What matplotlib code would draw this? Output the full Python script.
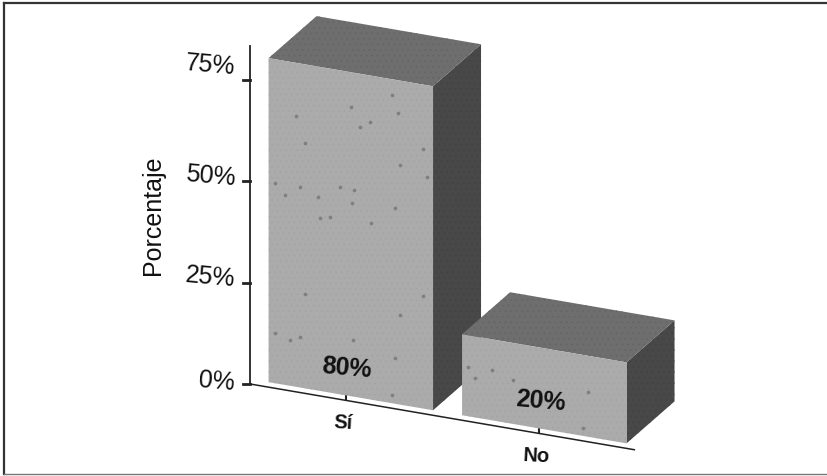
import matplotlib

matplotlib.use("Agg")
import matplotlib.pyplot as plt
from matplotlib.patches import Polygon
from matplotlib.transforms import Affine2D

categories = ["Sí", "No"]
percentages = [80, 20]
value_labels = ["80%", "20%"]
y_ticks = [0, 25, 50, 75]
y_tick_labels = ["0%", "25%", "50%", "75%"]
y_label_nudge = [-1, -3, -3, -13]

# darker flecks (category position, percent)
speck_x = [-.283, 0, .213, .244, .099, .048, -.237, .373, -.392, -.263, -.34,
           -.056, .017, -.17, .006, .228, -.107, -.159, .104, .254, .394,
           -.392, -.314, -.263, .011, .228, .373, .254, .212, -.237,
           .730, .606, .838, 1.226, 1.2, .642]
speck_pct = [66.9, 71.4, 76.1, 71.9, 68.5, 66.9, 60.6, 64.1, 49.4, 49.5, 46.9,
             51.2, 51.1, 47.8, 47.7, 48.3, 43.4, 42.7, 43.6, 59.2, 57.3,
             12.4, 11.2, 12.5, 13.9, 11.3, 27.7, 22.1, 2.0, 23.4,
             12.4, 12.2, 10.8, 11.1, 1.9, 9.7]

BAR_HALF = 0.425
DEPTH_FRONT = 0.1
DEPTH_BACK = 1.1
FRONT_COLOR = "#ababab"
TOP_COLOR = "#6e6e6e"
SIDE_COLOR = "#484848"
AXIS_COLOR = "#222222"

plt.rcParams["font.family"] = ["Liberation Sans", "DejaVu Sans"]
plt.rcParams["hatch.linewidth"] = 0.4

fig = plt.figure(figsize=(8.28, 4.76), dpi=100)
ax = fig.add_axes([0, 0, 1, 1])
ax.set_xlim(0, 828)
ax.set_ylim(476, 0)
ax.axis("off")


def plane(depth=0.0):
    # oblique projection: category, percent in the plane set back by depth
    return Affine2D.from_values(
        193.5, 33.1, 0, -4.05, 346 + 48 * depth, 400.4 - 42 * depth
    ) + ax.transData


def to_ax(point, depth=0.0):
    return ax.transData.inverted().transform(plane(depth).transform(point))


def add_face(corners, color, hatch_color, zorder):
    ax.add_patch(
        Polygon(
            corners,
            closed=True,
            facecolor=color,
            edgecolor=hatch_color,
            linewidth=0,
            hatch="...",
            zorder=zorder,
        )
    )


# axes lines
ax.plot([-0.496, 1.49], [0, 0], color=AXIS_COLOR, lw=1.1, transform=plane(), zorder=1)
ax.plot([-0.496, -0.496], [0, 83.5], color=AXIS_COLOR, lw=1.3, transform=plane(), zorder=1)
axis_x, axis_y = to_ax((-0.496, 0))
for tick, label, nudge in zip(y_ticks, y_tick_labels, y_label_nudge):
    tick_y = axis_y - 4.05 * tick
    ax.plot([axis_x - 7, axis_x], [tick_y, tick_y], color=AXIS_COLOR, lw=2, zorder=1)
    ax.text(axis_x - 15, tick_y + nudge, label, fontsize=18, ha="right", va="center",
            rotation=-5, rotation_mode="anchor", color="#111111")

for i, name in enumerate(categories):
    x0, y0 = to_ax((i, 0))
    ax.plot([x0, x0], [y0 - 1, y0 - 7], color=AXIS_COLOR, lw=1.5, zorder=1)
    ax.text(x0 - 3, y0 + 23, name, fontsize=14.5, fontweight="bold", ha="center", va="center",
            rotation=-3, rotation_mode="anchor", color="#111111")

# bars, first one drawn first so the second overlaps its side
for i, value in enumerate(percentages):
    x0, x1 = i - BAR_HALF, i + BAR_HALF
    z = 2 + 2 * i
    add_face(
        [to_ax((x1, value), DEPTH_FRONT), to_ax((x1, value), DEPTH_BACK),
         to_ax((x1, 0), DEPTH_BACK), to_ax((x1, 0), DEPTH_FRONT)],
        SIDE_COLOR, "#414141", z,
    )
    add_face(
        [to_ax((x0, value), DEPTH_FRONT), to_ax((x0, value), DEPTH_BACK),
         to_ax((x1, value), DEPTH_BACK), to_ax((x1, value), DEPTH_FRONT)],
        TOP_COLOR, "#646464", z,
    )
    add_face(
        [to_ax((x0, 0), DEPTH_FRONT), to_ax((x1, 0), DEPTH_FRONT),
         to_ax((x1, value), DEPTH_FRONT), to_ax((x0, value), DEPTH_FRONT)],
        FRONT_COLOR, "#a3a3a3", z,
    )
    bx, by = to_ax((i, 0), DEPTH_FRONT)
    ax.text(bx - 4, by - 28, value_labels[i], fontsize=18, fontweight="bold", ha="center",
            va="center", rotation=-5, rotation_mode="anchor", color="#111111", zorder=10)

ax.scatter(speck_x, speck_pct, s=7, color="#7f7f7f", linewidths=0,
           transform=plane(DEPTH_FRONT), zorder=9)

ax.text(153, 215, "Porcentaje", fontsize=18, rotation=90, ha="center", va="center", color="#111111")

# frame of the figure: no line on the right
ax.plot([4, 828], [2.5, 2.5], color="#333333", lw=1.6, zorder=20)
ax.plot([4, 4], [2.5, 474], color="#333333", lw=1.6, zorder=20)
ax.plot([4, 828], [474, 474], color="#777777", lw=1, zorder=20)

fig.savefig("out.png", dpi=100)
